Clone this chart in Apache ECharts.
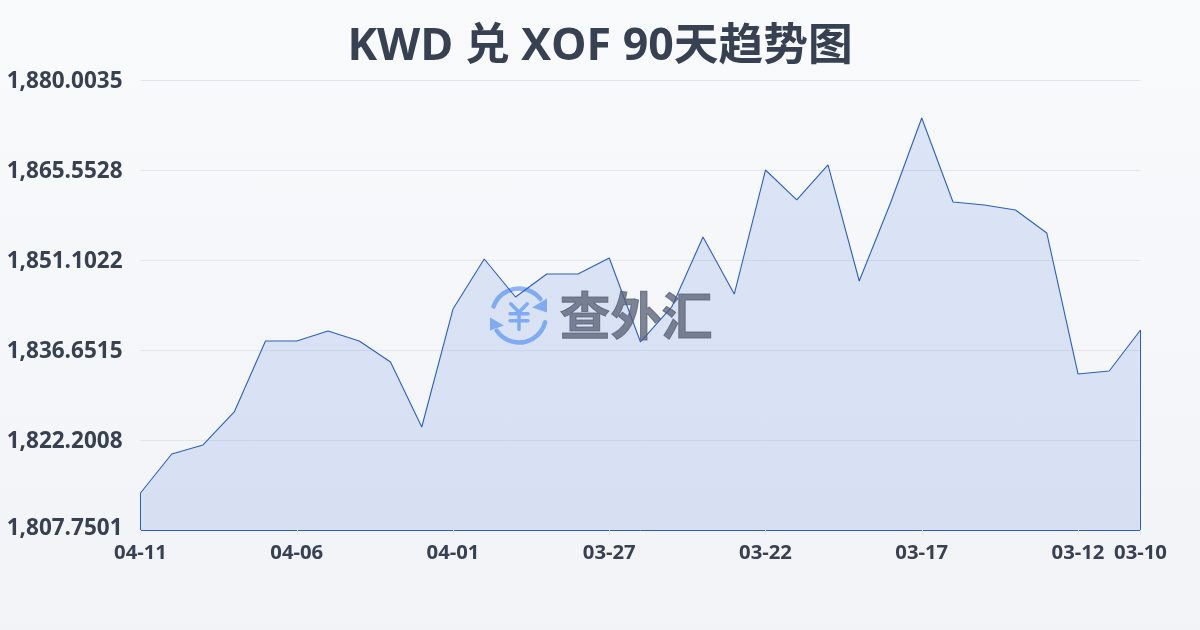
<!DOCTYPE html>
<html><head><meta charset="utf-8">
<style>html,body{margin:0;padding:0;width:1200px;height:630px;overflow:hidden;background:linear-gradient(180deg,#f8fafc,#f1f3f6)}#c{width:1200px;height:630px}</style>
<script src="https://cdn.jsdelivr.net/npm/echarts@6/dist/echarts.min.js"></script>
</head><body><div id="c"></div><script>
const titleText = 'KWD 兑 XOF 90天趋势图';
const categories = ['04-11','04-10','04-09','04-08','04-07','04-06','04-05','04-04','04-03','04-02','04-01','03-31','03-30','03-29','03-28','03-27','03-26','03-25','03-24','03-23','03-22','03-21','03-20','03-19','03-18','03-17','03-16','03-15','03-14','03-13','03-12','03-11','03-10'];
const rates = [1813.69,1819.95,1821.40,1826.70,1838.10,1838.10,1839.70,1838.10,1834.72,1824.29,1843.23,1851.26,1845.16,1848.85,1848.85,1851.42,1837.94,1843.56,1854.79,1845.64,1865.55,1860.74,1866.36,1847.73,1860.25,1873.90,1860.41,1859.93,1859.13,1855.44,1832.80,1833.28,1839.86];
const yTicks = [1807.7501,1822.2008,1836.6515,1851.1022,1865.5528,1880.0035];
const xLabels = ['04-11','04-06','04-01','03-27','03-22','03-17','03-12','03-10'];
const ink = '#374151', stroke = '#2a5fc4', mark = '#8cb6f7', latin = '"Open Sans"', fontFam = '"Open Sans","Noto Sans CJK SC",sans-serif';
const chart = echarts.init(document.getElementById('c'), null, {renderer:'canvas'});
const showX = (i, v) => xLabels.includes(v);
const fmtY = v => v.toLocaleString('en-US',{minimumFractionDigits:4,maximumFractionDigits:4});
const labelRich = {fontSize:22.5,fontWeight:700,fontFamily:latin,color:ink};
chart.setOption({
  animation:false,
  backgroundColor:'transparent',
  title:{text:titleText,left:'center',top:20,textStyle:{color:ink,fontSize:44.7,fontWeight:700,fontFamily:fontFam}},
  grid:{left:140.5,right:59.5,top:80,height:450,containLabel:false},
  xAxis:{type:'category',data:categories,boundaryGap:false,
    axisLine:{lineStyle:{color:stroke,width:1}},
    axisTick:{show:true,interval:showX,length:5,lineStyle:{color:'#e2e6ec'}},
    axisLabel:{interval:showX,color:ink,fontSize:20.3,fontWeight:700,margin:13,fontFamily:latin,hideOverlap:false},
    splitLine:{show:false}},
  yAxis:{type:'value',min:yTicks[0],max:yTicks[yTicks.length-1],
    axisLine:{show:false},axisTick:{show:false,customValues:yTicks},
    axisLabel:{customValues:yTicks,color:ink,fontSize:22.5,fontWeight:700,margin:18,fontFamily:latin,
      formatter:v=>Math.abs(v-yTicks[0])<1e-6?'{low|'+fmtY(v)+'}':'{std|'+fmtY(v)+'}',
      rich:{std:{...labelRich,padding:[3,0,0,0]},low:{...labelRich,padding:[0,0,2,0]}}},
    splitLine:{show:true,lineStyle:{color:'#e2e6ec',width:1}}},
  series:[{type:'line',data:rates,symbol:'none',smooth:false,z:3,
    lineStyle:{color:stroke,width:1.1},
    areaStyle:{color:'rgba(60,105,220,0.2)'},
    markLine:{silent:true,symbol:'none',animation:false,label:{show:false},lineStyle:{color:stroke,width:1,type:'solid'},
      data:[
        [{xAxis:categories[0],yAxis:yTicks[0]},{xAxis:categories[0],yAxis:rates[0]}],
        [{xAxis:categories[categories.length-1],yAxis:yTicks[0]},{xAxis:categories[categories.length-1],yAxis:rates[rates.length-1]}]
      ]}}],
  graphic:{elements:[
    {type:'group',left:490,top:286,z:20,silent:true,children:[
      {type:'arc',shape:{cx:30,cy:29,r:27,startAngle:-2.8,endAngle:-0.66},style:{fill:null,stroke:mark,lineWidth:4.5,lineCap:'round'}},
      {type:'arc',shape:{cx:30,cy:29,r:27,startAngle:0.25,endAngle:2.55},style:{fill:null,stroke:mark,lineWidth:4.5,lineCap:'round'}},
      {type:'polygon',shape:{points:[[58,12],[58,26],[43,21]]},style:{fill:mark}},
      {type:'polygon',shape:{points:[[1,31],[1,44],[15,39]]},style:{fill:mark}},
      {type:'polyline',shape:{points:[[21.7,17.3],[30,25.7],[38.3,17.3]]},style:{fill:null,stroke:mark,lineWidth:3.5,lineCap:'round'}},
      {type:'line',shape:{x1:30,y1:26,x2:30,y2:43},style:{stroke:mark,lineWidth:3.5,lineCap:'round'}},
      {type:'line',shape:{x1:21,y1:27.3,x2:39,y2:27.3},style:{stroke:mark,lineWidth:3.5,lineCap:'round'}},
      {type:'line',shape:{x1:21,y1:34.3,x2:39,y2:34.3},style:{stroke:mark,lineWidth:3.5,lineCap:'round'}}
    ]},
    {type:'text',left:559,top:294,z:20,silent:true,style:{text:'查外汇',fill:'rgba(85,94,115,0.75)',stroke:'rgba(85,94,115,0.75)',lineWidth:1,fontSize:51,fontWeight:700,fontFamily:fontFam}}
  ]}
});
</script></body></html>
